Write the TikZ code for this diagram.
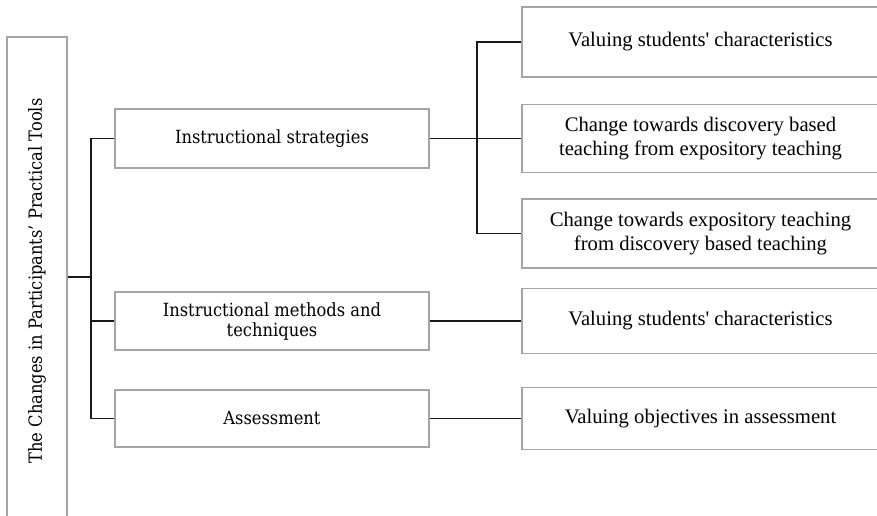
\documentclass[tikz,border=0pt]{standalone}
\usepackage{fontspec}
\setmainfont{Liberation Serif}
\newfontfamily\slabfont{DejaVu Serif Condensed}
\begin{document}
\begin{tikzpicture}[x=0.75pt,y=0.75pt,yscale=-1,xscale=1,
  box/.style={draw={rgb, 255:red, 165; green, 165; blue, 165}, line width=0.9pt, inner sep=0pt, align=center},
  midbox/.style={box, minimum width=235.5pt, font=\slabfont\fontsize{13.6}{15}\selectfont},
  subbox/.style={box, minimum width=267.75pt, font=\fontsize{15.5}{17.5}\selectfont},
  link/.style={draw={rgb, 255:red, 25; green, 25; blue, 25}, line width=1.1pt}]
\useasboundingbox (0,0) rectangle (877,515);
\clip (0,0) rectangle (877,515);

% Root box (runs off the bottom)
\node [box, rotate=90, minimum width=366pt, minimum height=45pt, font=\slabfont\fontsize{13.6}{15.5}\selectfont] (root) at (37,281) {The Changes in Participants’ Practical Tools};

% Middle boxes
\node [midbox, minimum height=44.25pt] (stra) at (272,138.5) {Instructional strategies};
\node [midbox, minimum height=43.5pt] (meth) at (272,321) {Instructional methods and\\techniques};
\node [midbox, minimum height=42.75pt] (asse) at (272,418.5) {Assessment};

% Right boxes (run off the right side)
\node [subbox, minimum height=52.5pt] (valA) at (700.5,42) {Valuing students\textquotesingle{} characteristics};
\node [subbox, minimum height=51pt] (disc) at (700.5,138.5) {Change towards discovery based\\teaching from expository teaching};
\node [subbox, minimum height=51.75pt] (expo) at (700.5,233.5) {Change towards expository teaching\\from discovery based teaching};
\node [subbox, minimum height=48.75pt] (valB) at (700.5,321) {Valuing students\textquotesingle{} characteristics};
\node [subbox, minimum height=46.5pt] (obje) at (700.5,418.5) {Valuing objectives in assessment};

% Connectors
\coordinate (trunk) at (91,277);
\coordinate (fork) at (477,138.5);
\draw [link] (root.south |- trunk) -- (trunk);
\draw [link] (stra.west) -| (trunk) |- (asse.west);
\draw [link] (meth.west) -- (meth.west -| trunk);
\draw [link] (stra.east) -- (disc.west);
\draw [link] (valA.west) -| (fork) |- (expo.west);
\draw [link] (meth.east) -- (valB.west);
\draw [link] (asse.east) -- (obje.west);

\end{tikzpicture}
\end{document}
